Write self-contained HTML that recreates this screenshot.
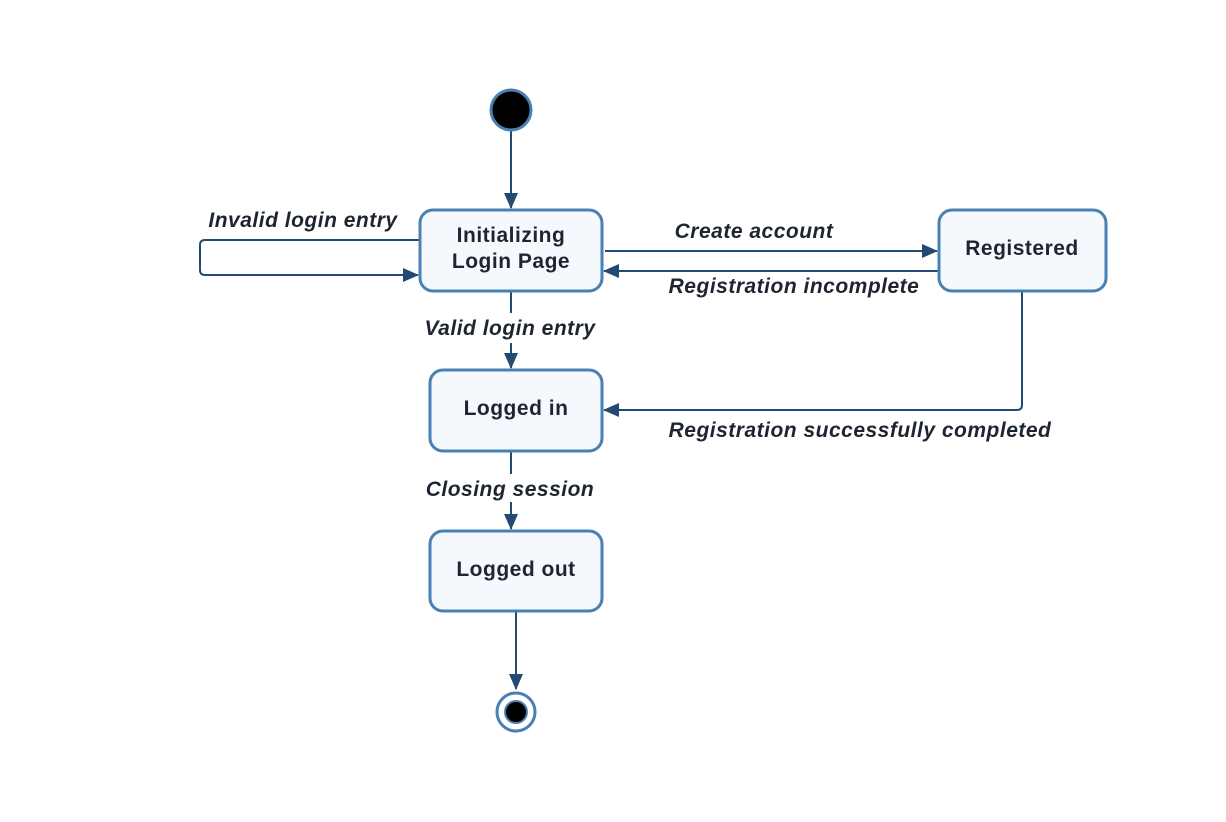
<!DOCTYPE html>
<html><head><style>body{margin:0;background:#fff}svg{display:block}</style></head><body>
<svg width="1226" height="822" viewBox="0 0 1226 822" xmlns="http://www.w3.org/2000/svg">
<defs><marker id="a" markerWidth="16" markerHeight="14" refX="15" refY="7" orient="auto" markerUnits="userSpaceOnUse"><path d="M0,0 L16,7 L0,14 Z" fill="#234a72"/></marker></defs>
<g fill="none" stroke="#234a72" stroke-width="2">
<path d="M511,131 V208" marker-end="url(#a)"/>
<path d="M420,240 H205 Q200,240 200,245 V270 Q200,275 205,275 H418" marker-end="url(#a)"/>
<path d="M605,251 H937" marker-end="url(#a)"/>
<path d="M939,271 H604" marker-end="url(#a)"/>
<path d="M511,291 V368" marker-end="url(#a)"/>
<path d="M1022,291 V405 Q1022,410 1017,410 H604" marker-end="url(#a)"/>
<path d="M511,451 V529" marker-end="url(#a)"/>
<path d="M516,611 V689" marker-end="url(#a)"/>
</g>
<rect x="420" y="313" width="180" height="30" fill="#fff"/>
<rect x="420" y="474" width="180" height="28" fill="#fff"/>
<g fill="#f5f9fe" stroke="#4a81b5" stroke-width="3">
<rect x="420" y="210" width="182" height="81" rx="13"/>
<rect x="939" y="210" width="167" height="81" rx="13"/>
<rect x="430" y="370" width="172" height="81" rx="13"/>
<rect x="430" y="531" width="172" height="80" rx="13"/>
</g>
<circle cx="511" cy="110" r="20" fill="#000" stroke="#4a81b5" stroke-width="3"/>
<circle cx="516" cy="712" r="19" fill="#fff" stroke="#4a81b5" stroke-width="3"/>
<circle cx="516" cy="712" r="11" fill="#000" stroke="#4a81b5" stroke-width="2"/>
<g font-family="Liberation Sans, sans-serif" font-weight="bold" font-size="21" letter-spacing="0.5" fill="#1e2530" text-anchor="middle">
<text x="511" y="242">Initializing</text>
<text x="511" y="268">Login Page</text>
<text x="1022" y="255">Registered</text>
<text x="516" y="415">Logged in</text>
<text x="516" y="576">Logged out</text>
<g font-style="italic">
<text x="303" y="227">Invalid login entry</text>
<text x="754" y="238">Create account</text>
<text x="794" y="293">Registration incomplete</text>
<text x="510" y="335">Valid login entry</text>
<text x="860" y="437">Registration successfully completed</text>
<text x="510" y="496">Closing session</text>
</g></g>
</svg>
</body></html>
